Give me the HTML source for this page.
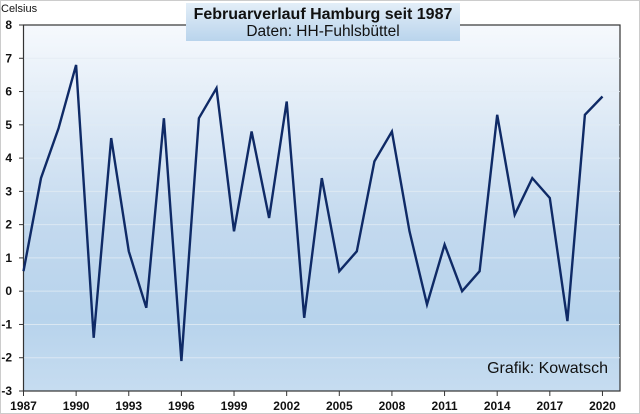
<!DOCTYPE html>
<html><head><meta charset="utf-8"><style>
body{margin:0;background:#fff;}
svg{display:block;font-family:"Liberation Sans",sans-serif;}
</style></head><body>
<svg width="640" height="414" viewBox="0 0 640 414">
<defs>
<linearGradient id="bg" x1="0" y1="0" x2="0" y2="1">
<stop offset="0" stop-color="#f6f9fd"/><stop offset="0.55" stop-color="#c3d9ee"/><stop offset="0.8" stop-color="#b7d3ec"/><stop offset="1" stop-color="#c6dcf0"/>
</linearGradient>
<linearGradient id="tb" x1="0" y1="0" x2="0" y2="1">
<stop offset="0" stop-color="#e3eef8"/><stop offset="1" stop-color="#b9d4ec"/>
</linearGradient>
</defs>
<rect x="0.5" y="0.5" width="639" height="413" fill="#fff" stroke="#ccc"/>
<rect x="23.5" y="25" width="596.5" height="366" fill="url(#bg)" stroke="#333" stroke-width="1.2"/>
<g id="grid"></g><g id="axes"></g>
<path id="line" fill="none" stroke="#0f2a66" stroke-width="2.4" stroke-linejoin="miter"/>
<rect x="186" y="3" width="274" height="38" fill="url(#tb)"/>
<text x="323" y="19" text-anchor="middle" font-size="16" font-weight="bold" fill="#111">Februarverlauf Hamburg seit 1987</text>
<text x="323" y="36" text-anchor="middle" font-size="15.5" fill="#111">Daten: HH-Fuhlsbüttel</text>
<text x="1" y="12" font-size="11" fill="#111">Celsius</text>
<text x="608" y="373" text-anchor="end" font-size="16" fill="#111">Grafik: Kowatsch</text>
</svg>
<script>
const years=[1987,1988,1989,1990,1991,1992,1993,1994,1995,1996,1997,1998,1999,2000,2001,2002,2003,2004,2005,2006,2007,2008,2009,2010,2011,2012,2013,2014,2015,2016,2017,2018,2019,2020];
const temps=[0.6,3.4,4.9,6.8,-1.4,4.6,1.2,-0.5,5.2,-2.1,5.2,6.1,1.8,4.8,2.2,5.7,-0.8,3.4,0.6,1.2,3.9,4.8,1.8,-0.4,1.4,0.0,0.6,5.3,2.3,3.4,2.8,-0.9,5.3,5.85];
const yTicks=[-3,-2,-1,0,1,2,3,4,5,6,7,8];
const xTicks=[1987,1990,1993,1996,1999,2002,2005,2008,2011,2014,2017,2020];
const NS="http://www.w3.org/2000/svg";
const x=v=>23.5+(v-1987)*(596.5/34);
const y=v=>391-(v+3)*(366/11);
const grid=document.getElementById('grid'),axes=document.getElementById('axes');
function mk(t,a,p){const e=document.createElementNS(NS,t);for(const k in a)e.setAttribute(k,a[k]);p.appendChild(e);return e;}
yTicks.forEach(v=>{
 if(v>-3&&v<8){const g=mk('line',{x1:24,x2:620,y1:y(v),y2:y(v),stroke:'#e2ebf4','stroke-width':1,'stroke-opacity':0.8},grid);
 
 }
 const t=mk('line',{x1:19,x2:23.5,y1:y(v),y2:y(v),stroke:'#333'},axes);
 
 
 const l=mk('text',{x:12,y:y(v)+4,'text-anchor':'end','font-size':12,'font-weight':'bold',fill:'#111'},axes);l.textContent=v;
 
 
});
xTicks.forEach(v=>{
 const t=mk('line',{x1:x(v),x2:x(v),y1:391,y2:396,stroke:'#333'},axes);
 
 
 const l=mk('text',{x:x(v),y:410,'text-anchor':'middle','font-size':12,'font-weight':'bold',fill:'#111'},axes);l.textContent=v;
 
 
});
document.getElementById('line').setAttribute('d',years.map((yr,i)=>(i?'L':'M')+x(yr).toFixed(1)+','+y(temps[i]).toFixed(1)).join(''));
</script>
</body></html>
